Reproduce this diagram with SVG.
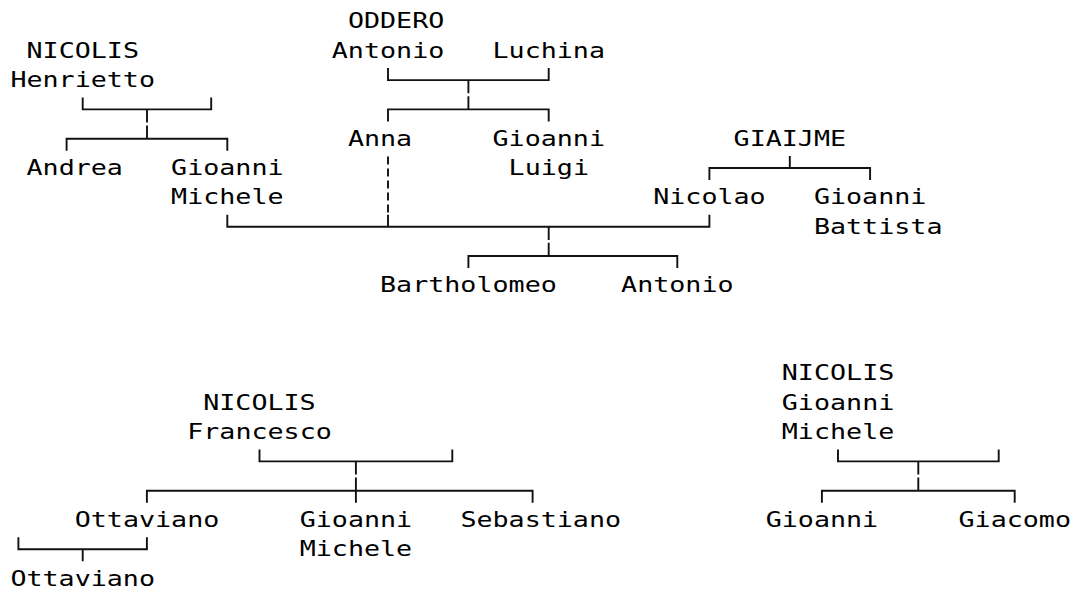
<svg xmlns="http://www.w3.org/2000/svg" width="1073" height="589" viewBox="0 0 1073 589">
<style>
text{font-family:"DejaVu Sans Mono","Liberation Mono",monospace;font-size:21px;fill:#000;}
.c{fill:none;stroke:#111;stroke-width:1.9;}
.d{fill:none;stroke:#111;stroke-width:1.9;stroke-dasharray:8 4;}
</style>
<rect width="1073" height="589" fill="#fff"/>
<g id="connectors">
<path class="c" d="M82.7 97.4V109.4H211.2V97.4M147 109.4V122.6M147 125.5V138.7M66.6 150.7V138.7H227.3V150.7"/>
<path class="c" d="M388 68.1V80.1H548.7V68.1M468.4 80.1V93.3M468.4 96.2V109.4M388 121.4V109.4H548.7V121.4"/>
<path class="d" d="M388 156.5V213"/>
<path class="c" d="M227.3 214.7V226.7H709.4V214.7M388 214.7V226.7M548.7 226.7V239.9M548.7 242.8V256M468.4 268V256H677.3V268"/>
<path class="c" d="M789.8 156V168M709.4 180V168H870.1V180"/>
<path class="c" d="M259.5 449.4V461.4H452.3V449.4M355.9 461.4V474.6M355.9 477.5V490.7M146.9 502.7V490.7H532.6V502.7M355.9 490.7V502.7"/>
<path class="c" d="M18.4 537.3V549.3H146.9V537.3M82.7 549.3V561.3"/>
<path class="c" d="M838 449.4V461.4H998.7V449.4M918.3 461.4V474.6M918.3 477.5V490.7M821.9 502.7V490.7H1014.7V502.7"/>
</g>
<g id="nicolis-henrietto"><text x="26.5" y="57.7" textLength="112.5" lengthAdjust="spacingAndGlyphs">NICOLIS</text><text x="10.4" y="87.1" textLength="144.6" lengthAdjust="spacingAndGlyphs">Henrietto</text></g>
<g id="andrea"><text x="26.5" y="175" textLength="96.4" lengthAdjust="spacingAndGlyphs">Andrea</text></g>
<g id="gioanni-michele-1"><text x="171.1" y="175" textLength="112.5" lengthAdjust="spacingAndGlyphs">Gioanni</text><text x="171.1" y="204.4" textLength="112.5" lengthAdjust="spacingAndGlyphs">Michele</text></g>
<g id="oddero-antonio"><text x="347.9" y="28.4" textLength="96.4" lengthAdjust="spacingAndGlyphs">ODDERO</text><text x="331.8" y="57.7" textLength="112.5" lengthAdjust="spacingAndGlyphs">Antonio</text></g>
<g id="luchina"><text x="492.5" y="57.7" textLength="112.5" lengthAdjust="spacingAndGlyphs">Luchina</text></g>
<g id="anna"><text x="347.9" y="145.7" textLength="64.3" lengthAdjust="spacingAndGlyphs">Anna</text></g>
<g id="gioanni-luigi"><text x="492.5" y="145.7" textLength="112.5" lengthAdjust="spacingAndGlyphs">Gioanni</text><text x="508.6" y="175" textLength="80.4" lengthAdjust="spacingAndGlyphs">Luigi</text></g>
<g id="giaijme"><text x="733.6" y="145.7" textLength="112.5" lengthAdjust="spacingAndGlyphs">GIAIJME</text></g>
<g id="nicolao"><text x="653.2" y="204.4" textLength="112.5" lengthAdjust="spacingAndGlyphs">Nicolao</text></g>
<g id="gioanni-battista"><text x="813.9" y="204.4" textLength="112.5" lengthAdjust="spacingAndGlyphs">Gioanni</text><text x="813.9" y="233.7" textLength="128.6" lengthAdjust="spacingAndGlyphs">Battista</text></g>
<g id="bartholomeo"><text x="380" y="292.4" textLength="176.8" lengthAdjust="spacingAndGlyphs">Bartholomeo</text></g>
<g id="antonio-2"><text x="621.1" y="292.4" textLength="112.5" lengthAdjust="spacingAndGlyphs">Antonio</text></g>
<g id="nicolis-francesco"><text x="203.2" y="409.7" textLength="112.5" lengthAdjust="spacingAndGlyphs">NICOLIS</text><text x="187.2" y="439" textLength="144.6" lengthAdjust="spacingAndGlyphs">Francesco</text></g>
<g id="ottaviano-1"><text x="74.7" y="527" textLength="144.6" lengthAdjust="spacingAndGlyphs">Ottaviano</text></g>
<g id="gioanni-michele-2"><text x="299.7" y="527" textLength="112.5" lengthAdjust="spacingAndGlyphs">Gioanni</text><text x="299.7" y="556.3" textLength="112.5" lengthAdjust="spacingAndGlyphs">Michele</text></g>
<g id="sebastiano"><text x="460.4" y="527" textLength="160.7" lengthAdjust="spacingAndGlyphs">Sebastiano</text></g>
<g id="ottaviano-2"><text x="10.4" y="585.7" textLength="144.6" lengthAdjust="spacingAndGlyphs">Ottaviano</text></g>
<g id="nicolis-gioanni-michele"><text x="781.8" y="380.4" textLength="112.5" lengthAdjust="spacingAndGlyphs">NICOLIS</text><text x="781.8" y="409.7" textLength="112.5" lengthAdjust="spacingAndGlyphs">Gioanni</text><text x="781.8" y="439" textLength="112.5" lengthAdjust="spacingAndGlyphs">Michele</text></g>
<g id="gioanni-3"><text x="765.7" y="527" textLength="112.5" lengthAdjust="spacingAndGlyphs">Gioanni</text></g>
<g id="giacomo"><text x="958.5" y="527" textLength="112.5" lengthAdjust="spacingAndGlyphs">Giacomo</text></g>
</svg>
